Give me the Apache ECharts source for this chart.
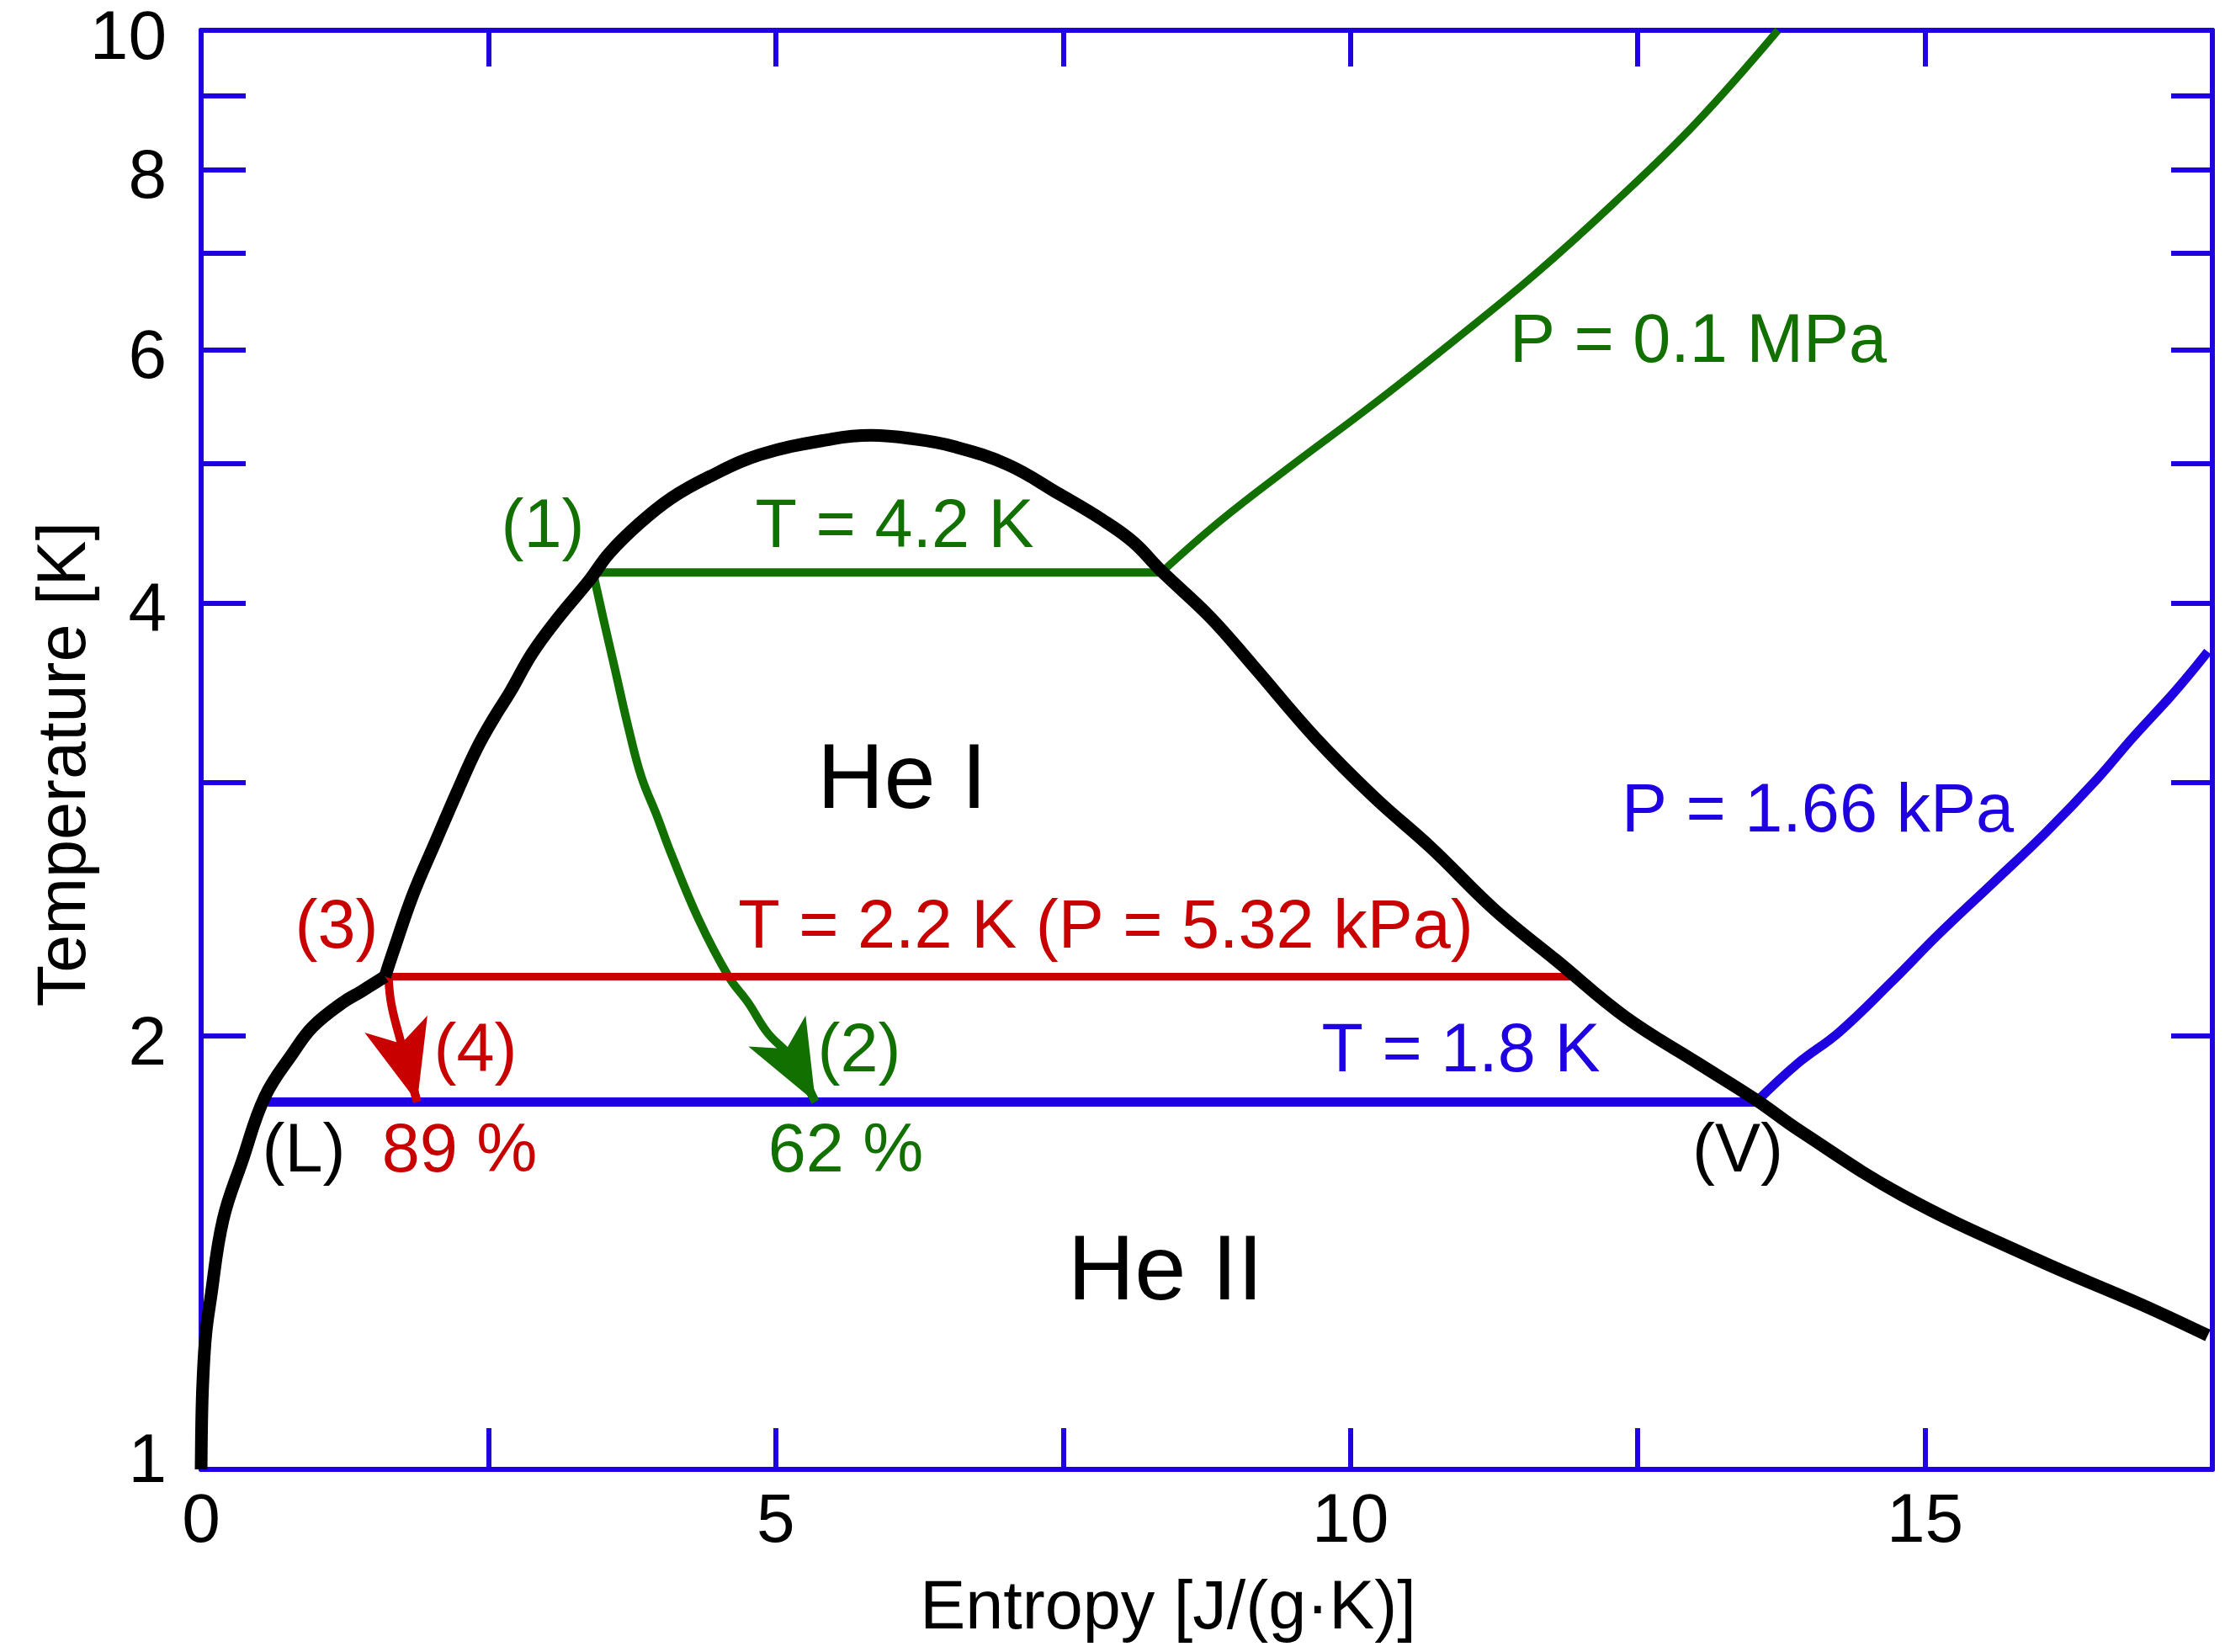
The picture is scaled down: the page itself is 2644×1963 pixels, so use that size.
<!DOCTYPE html>
<html>
<head>
<meta charset="utf-8">
<script src="https://cdn.jsdelivr.net/npm/echarts@6/dist/echarts.min.js"></script>
<style>html,body{margin:0;padding:0;background:#fff}#c{width:2644px;height:1963px}</style>
</head>
<body>
<div id="c"></div>
<script>
// ---------- data (entropy S in J/(g·K), temperature T in K) ----------
const xTickLabels = [0, 5, 10, 15];
const yTickValues = [1, 2, 3, 4, 5, 6, 7, 8, 9, 10];
const yTickLabels = [1, 2, 4, 6, 8, 10];

// saturation curve, split at the lambda point (3)
const saturationBelowLambda = [
  [0.0, 1.0], [0.005, 1.08], [0.015, 1.15], [0.04, 1.24], [0.08, 1.31],
  [0.19, 1.49], [0.36, 1.64], [0.556, 1.816], [0.805, 1.95], [0.97, 2.03],
  [1.23, 2.11], [1.40, 2.15], [1.60, 2.20]
];
const saturationAboveLambda = [
  [1.60, 2.20], [1.68, 2.30], [1.845, 2.51],
  [2.04, 2.73], [2.23, 2.96], [2.40, 3.17], [2.55, 3.33], [2.69, 3.47],
  [2.88, 3.69], [3.10, 3.90], [3.38, 4.15], [3.55, 4.33], [3.81, 4.54],
  [4.09, 4.73], [4.41, 4.89], [4.86, 5.07], [5.49, 5.20], [5.83, 5.23],
  [6.20, 5.20], [6.54, 5.14], [7.02, 4.99], [7.47, 4.76], [7.84, 4.57],
  [8.11, 4.41], [8.355, 4.21], [8.78, 3.91], [9.15, 3.62], [9.70, 3.22],
  [10.21, 2.93], [10.71, 2.70], [11.25, 2.45], [11.80, 2.255], [12.39, 2.063],
  [13.03, 1.914], [13.53, 1.806], [13.90, 1.721], [14.80, 1.551], [15.98, 1.398],
  [16.88, 1.302], [17.46, 1.239]
];
const isobar01MPa = [
  [8.355, 4.2], [8.86, 4.556], [9.45, 4.957], [10.2, 5.498], [10.9, 6.085],
  [11.6, 6.761], [12.3, 7.594], [13.0, 8.61], [13.72, 10.0]
];
const isobar166kPa = [
  [13.53, 1.8], [13.89, 1.914], [14.25, 2.012], [14.70, 2.178], [15.12, 2.355],
  [15.60, 2.56], [16.05, 2.77], [16.50, 3.02], [16.80, 3.22], [17.13, 3.44],
  [17.29, 3.56], [17.46, 3.70]
];
const isotherm42 = [[3.41, 4.2], [8.355, 4.2]];
const isotherm22 = [[1.63, 2.2], [11.93, 2.2]];
const isotherm18 = [[0.58, 1.8], [13.53, 1.8]];
const isentrope12 = [
  [3.41, 4.2], [3.50, 3.90], [3.60, 3.60], [3.72, 3.27], [3.83, 3.03],
  [3.97, 2.84], [4.08, 2.69], [4.33, 2.41], [4.59, 2.20], [4.76, 2.11],
  [4.93, 2.01], [5.14, 1.93], [5.345, 1.80]
];
const isentrope34 = [[1.63, 2.2], [1.655, 2.105], [1.735, 1.985], [1.815, 1.881], [1.88, 1.80]];

// annotation texts anchored at [S, T]
const annotationTexts = ['(1)', 'T = 4.2 K', 'P = 0.1 MPa', 'He I', 'He II', 'P = 1.66 kPa',
  '(3)', 'T = 2.2 K (P = 5.32 kPa)', '(4)', '(2)', 'T = 1.8 K', '(L)', '89 %', '62 %', '(V)'];
const annotationAnchors = [[2.973, 4.51], [6.034, 4.51], [13.026, 6.06], [6.099, 3.0], [8.391, 1.368],
  [14.066, 2.86], [1.179, 2.374], [7.871, 2.374], [2.387, 1.948], [5.726, 1.948], [10.961, 1.948],
  [0.893, 1.66], [2.248, 1.66], [5.609, 1.66], [13.37, 1.66]];
const annotationColors = ['green', 'green', 'green', 'black', 'black', 'blue',
  'red', 'red', 'red', 'green', 'blue', 'black', 'red', 'green', 'black'];
const annotationBig = [false, false, false, true, true, false, false, false, false, false, false, false, false, false, false];

// ---------- styles ----------
const FONT = "'Liberation Sans', Arial, Helvetica, sans-serif";
const COL = { blue: '#1e00e0', green: '#117000', red: '#c80000', black: '#000000' };
const AXIS_W = 6;

const toXY = arr => arr.map(p => [p[0], Math.log10(p[1])]);

function lineSeries(name, pts, color, width, z, smooth, arrow) {
  const s = {
    name, type: 'line', data: toXY(pts), showSymbol: false, symbol: 'none',
    smooth, z, silent: true, animation: false,
    lineStyle: { color, width, cap: 'butt', join: 'round' }
  };
  if (arrow) {
    const d = toXY(pts);
    s.markLine = {
      silent: true, animation: false, symbol: ['none', 'arrow'],
      symbolSize: [58, 96],
      label: { show: false },
      lineStyle: { color, width, type: 'solid' },
      emphasis: { disabled: true },
      data: [[{ coord: d[d.length - 2] }, { coord: d[d.length - 1] }]]
    };
  }
  return s;
}

const chart = echarts.init(document.getElementById('c'), null, { renderer: 'canvas' });

const xBase = {
  type: 'value', min: 0, max: 17.5, interval: 2.5, splitLine: { show: false },
  axisLine: { show: true, onZero: false, lineStyle: { color: COL.blue, width: AXIS_W } }
};
const yBase = {
  type: 'value', min: 0, max: 1, splitLine: { show: false },
  axisLine: { show: true, onZero: false, lineStyle: { color: COL.blue, width: AXIS_W } }
};

const option = {
  animation: false,
  backgroundColor: '#ffffff',
  textStyle: { fontFamily: FONT },
  grid: { left: 239, right: 15, top: 36, bottom: 217, containLabel: false, outerBoundsMode: 'none' },
  xAxis: [
    Object.assign({}, xBase, {
      position: 'bottom',
      axisTick: { show: true, inside: true, length: 49, lineStyle: { color: COL.blue, width: 6 } },
      axisLabel: { show: true, customValues: xTickLabels, color: '#000', fontSize: 82, margin: 22, fontFamily: FONT },
      name: 'Entropy [J/(g·K)]', nameLocation: 'middle', nameGap: 126, nameMoveOverlap: false,
      nameTextStyle: { color: '#000', fontSize: 81, fontFamily: FONT, padding: [0, 92, 0, 0] }
    }),
    Object.assign({}, xBase, {
      position: 'top',
      axisTick: { show: true, inside: true, length: 43, lineStyle: { color: COL.blue, width: 6 } },
      axisLabel: { show: false }
    })
  ],
  yAxis: [
    Object.assign({}, yBase, {
      position: 'left',
      axisTick: { show: true, inside: true, length: 53, customValues: yTickValues.map(Math.log10),
        lineStyle: { color: COL.blue, width: 6 } },
      axisLabel: {
        show: true, customValues: yTickLabels.map(Math.log10), color: '#000', fontSize: 82, margin: 41,
        fontFamily: FONT,
        formatter: v => {
          const t = Math.round(Math.pow(10, v));
          return t === 1 ? '{one|1}' : '{n|' + t + '}';
        },
        rich: {
          n: { fontSize: 82, fontFamily: FONT, color: '#000', padding: [22, 0, 0, 0] },
          one: { fontSize: 82, fontFamily: FONT, color: '#000', padding: [0, 0, 16, 0] }
        }
      },
      name: 'Temperature [K]', nameLocation: 'middle', nameGap: 120, nameRotate: 90, nameMoveOverlap: false,
      nameTextStyle: { color: '#000', fontSize: 81, fontFamily: FONT, padding: [0, 34, 0, 0] }
    }),
    Object.assign({}, yBase, {
      position: 'right',
      axisTick: { show: true, inside: true, length: 49, customValues: yTickValues.map(Math.log10),
        lineStyle: { color: COL.blue, width: 6 } },
      axisLabel: { show: false }
    })
  ],
  series: [
    lineSeries('T = 4.2 K', isotherm42, COL.green, 10, 3, false),
    lineSeries('P = 0.1 MPa', isobar01MPa, COL.green, 9, 3, 0.4),
    lineSeries('isentrope 1-2', isentrope12, COL.green, 10, 3, 0.4, true),
    lineSeries('T = 2.2 K', isotherm22, COL.red, 9, 3, false),
    lineSeries('isentrope 3-4', isentrope34, COL.red, 10, 3, 0.4, true),
    lineSeries('T = 1.8 K', isotherm18, COL.blue, 11, 3, false),
    lineSeries('P = 1.66 kPa', isobar166kPa, COL.blue, 11, 3, 0.4),
    lineSeries('saturation (below lambda)', saturationBelowLambda, COL.black, 15, 5, 0.4),
    lineSeries('saturation (above lambda)', saturationAboveLambda, COL.black, 15, 5, 0.4),
    {
      name: 'annotations', type: 'scatter', silent: true, z: 6, animation: false,
      symbolSize: 1, itemStyle: { color: 'rgba(0,0,0,0)' },
      data: annotationTexts.map((t, i) => ({
        value: [annotationAnchors[i][0], Math.log10(annotationAnchors[i][1])],
        label: {
          show: true, position: 'inside', formatter: t, opacity: 1,
          color: COL[annotationColors[i]],
          fontSize: annotationBig[i] ? 110 : 81,
          fontFamily: FONT
        }
      }))
    }
  ]
};
chart.setOption(option);
</script>
</body>
</html>
